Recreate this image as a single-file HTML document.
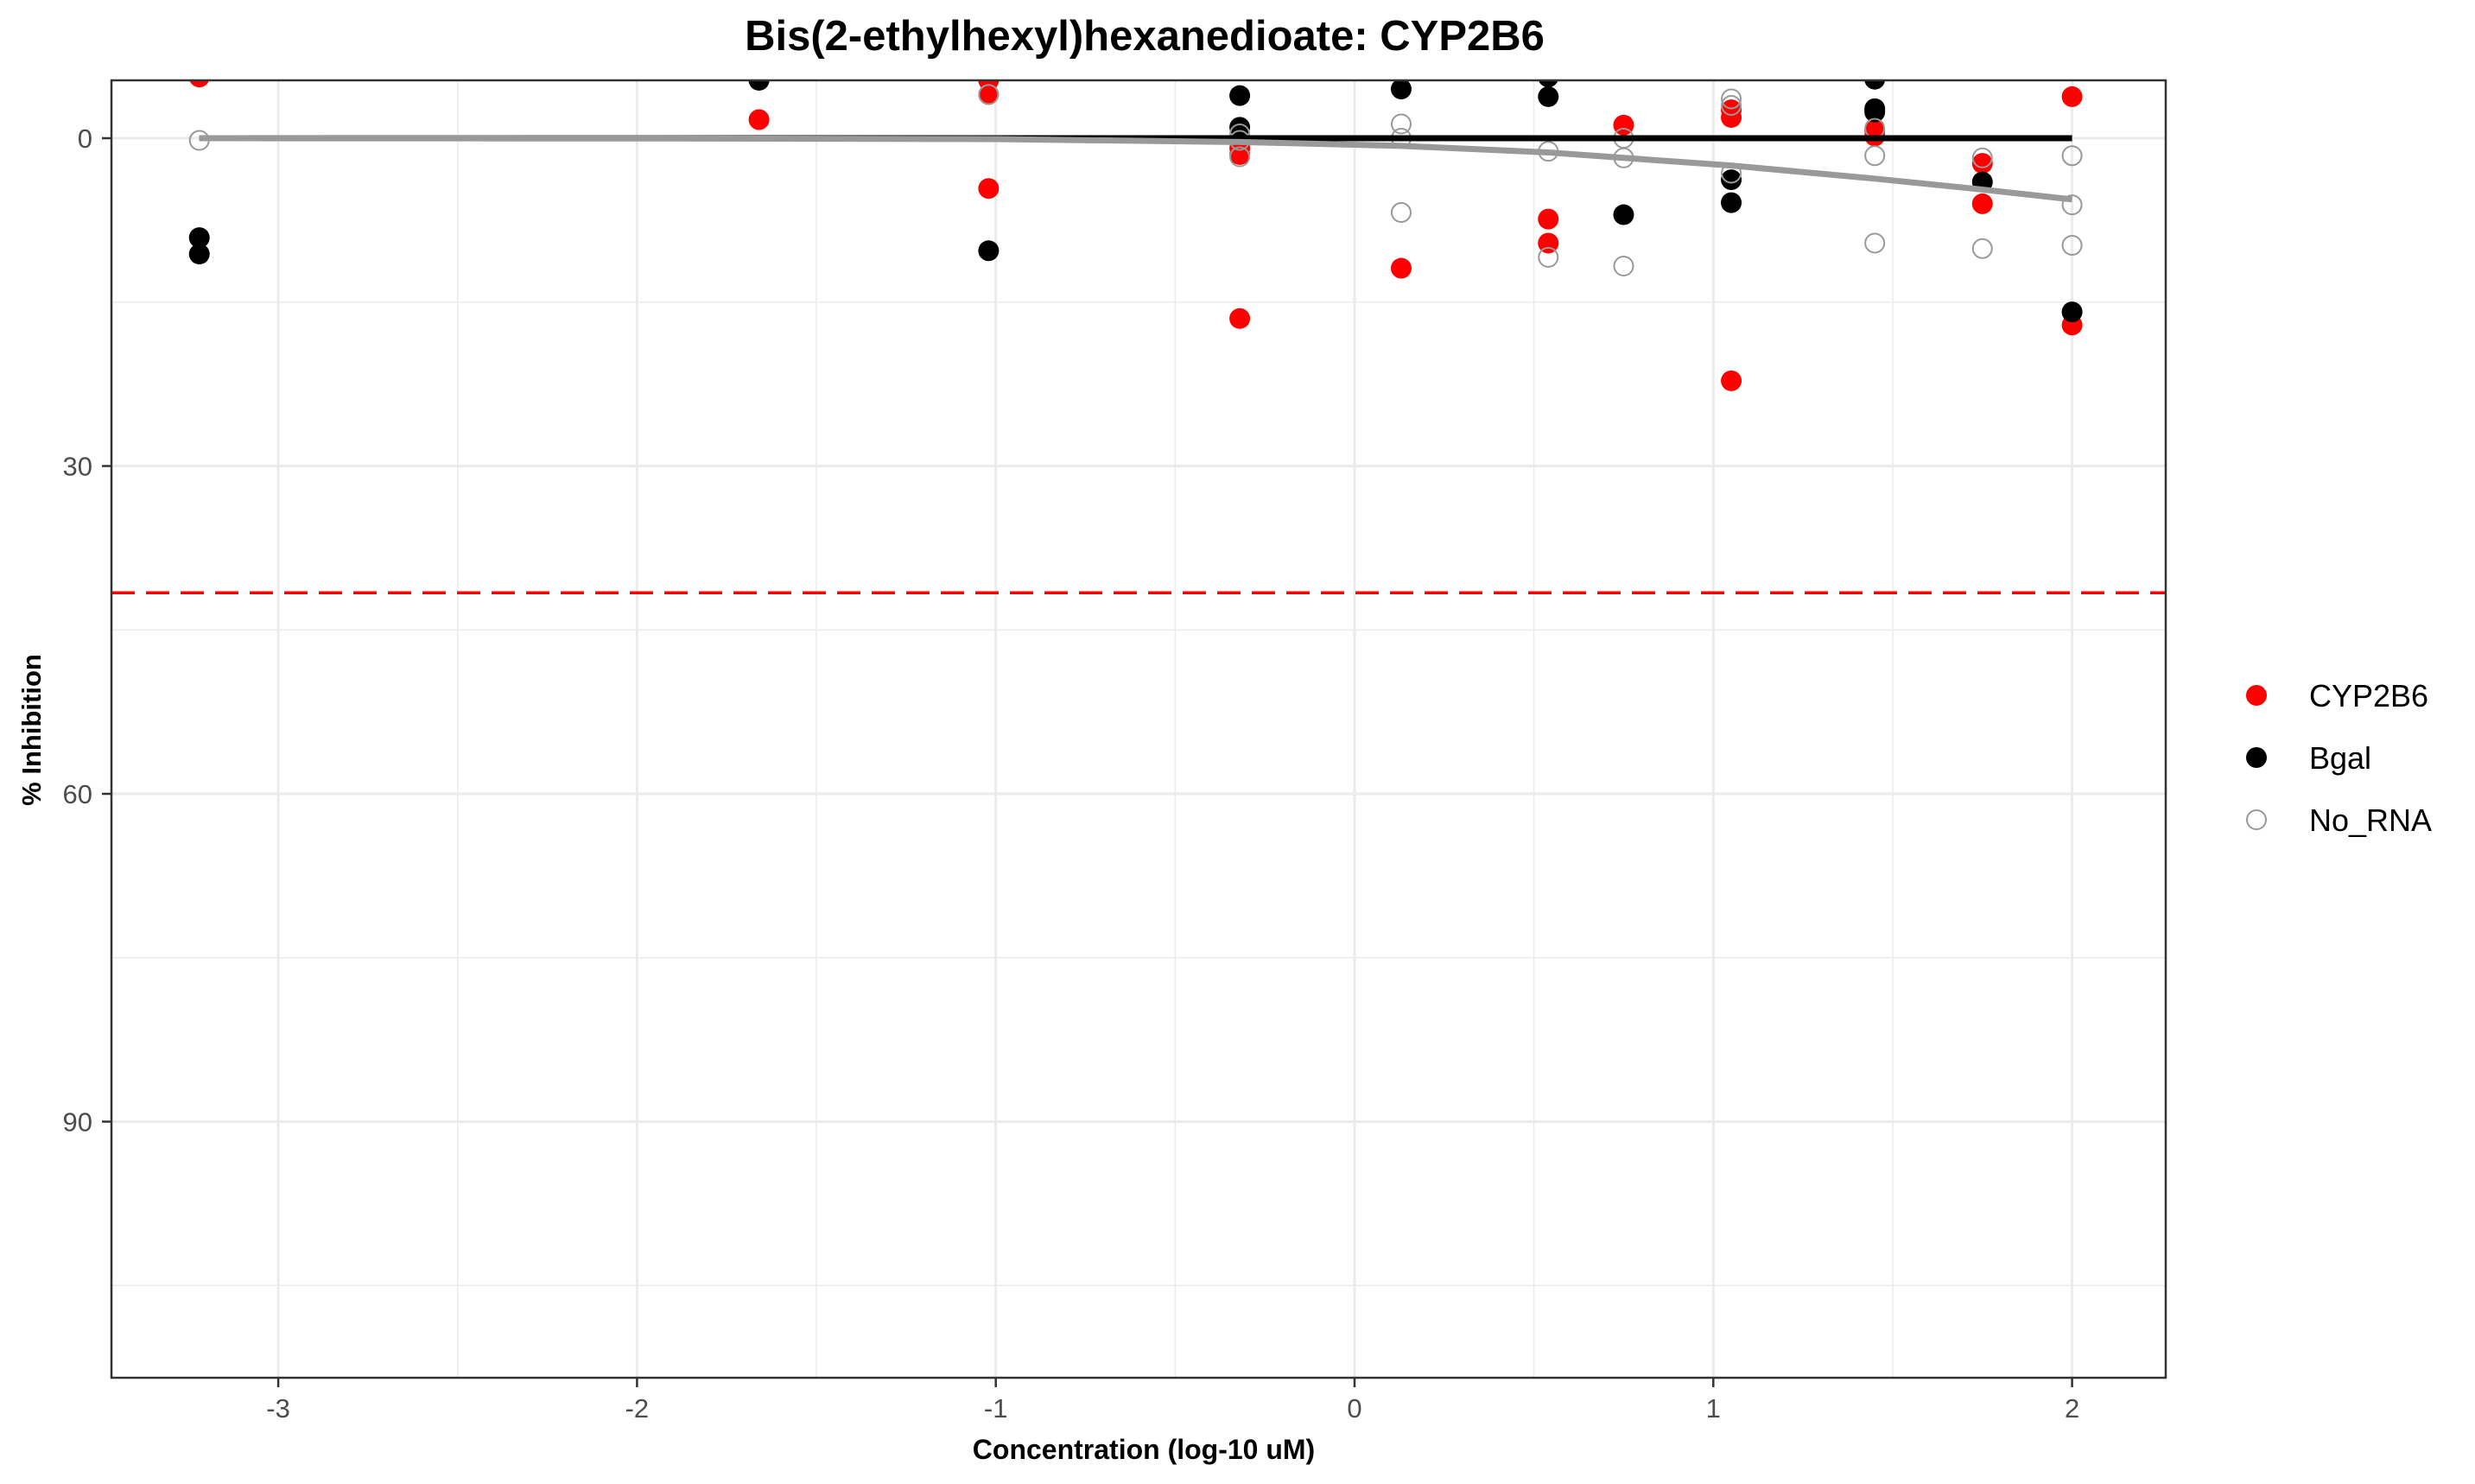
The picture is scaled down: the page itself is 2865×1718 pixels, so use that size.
<!DOCTYPE html>
<html><head><meta charset="utf-8"><style>
html,body{margin:0;padding:0;background:#fff;}
svg{display:block;font-family:"Liberation Sans",Arial,sans-serif;}
</style></head><body>
<svg id="chart" width="2865" height="1718" viewBox="0 0 2865 1718" xmlns="http://www.w3.org/2000/svg">
<text x="1325" y="58" text-anchor="middle" font-size="49" font-weight="bold" fill="#000">Bis(2-ethylhexyl)hexanedioate: CYP2B6</text>
<rect x="129" y="93" width="2378" height="1502" fill="#fff"/>
<g id="grid"></g>
<g id="marks"></g>
<rect x="129" y="93" width="2378" height="1502" fill="none" stroke="#333" stroke-width="2.5"/>
<g id="axes"></g>
<text x="1324" y="1689" text-anchor="middle" font-size="32" font-weight="bold" fill="#000">Concentration (log-10 uM)</text>
<text transform="translate(47,845) rotate(-90)" text-anchor="middle" font-size="31" font-weight="bold" fill="#000">% Inhibition</text>
<g>
<g><circle cx="2612" cy="805" r="12" fill="#ff0000"/><text x="2673" y="818" font-size="36" fill="#000">CYP2B6</text></g>
<g><circle cx="2612" cy="877" r="12" fill="#000"/><text x="2673" y="890" font-size="36" fill="#000">Bgal</text></g>
<g><circle cx="2612" cy="949" r="11" fill="none" stroke="#999" stroke-width="2"/><text x="2673" y="962" font-size="36" fill="#000">No_RNA</text></g>
</g>
</svg>
<script>
const xTicks = [-3, -2, -1, 0, 1, 2];
const yTicks = [0, 30, 60, 90];
const xMinor = [-2.5, -1.5, -0.5, 0.5, 1.5];
const yMinor = [15, 45, 75, 105];
const cypX = [-3.22, -1.66, -1.02, -1.02, -1.02, -0.32, -0.32, -0.32, 0.13, 0.54, 0.54, 0.75, 1.05, 1.05, 1.05, 1.45, 1.45, 1.75, 1.75, 2.0, 2.0];
const cypY = [-5.6, -1.7, -5.3, -4.0, 4.6, 0.9, 1.5, 16.5, 11.9, 7.4, 9.6, -1.2, -2.6, -1.9, 22.2, -0.7, -0.2, 2.3, 6.0, -3.8, 17.1];
const bgalX = [-3.22, -3.22, -1.66, -1.02, -0.32, -0.32, 0.13, 0.54, 0.54, 0.75, 1.05, 1.05, 1.45, 1.45, 1.45, 1.75, 2.0];
const bgalY = [9.1, 10.6, -5.3, 10.3, -3.9, -1.0, -4.5, -5.6, -3.8, 7.0, 3.8, 5.9, -5.4, -2.7, -2.4, 4.0, 15.9];
const noX = [-3.22, -1.02, -0.32, -0.32, -0.32, 0.13, 0.13, 0.13, 0.54, 0.54, 0.75, 0.75, 0.75, 1.05, 1.05, 1.05, 1.45, 1.45, 1.45, 1.75, 1.75, 2.0, 2.0, 2.0];
const noY = [0.2, -4.0, -0.4, 0.2, 1.7, -1.3, 0, 6.8, 1.2, 10.9, 0, 1.8, 11.7, -3.6, -3.0, 3.2, -0.9, 1.6, 9.6, 1.8, 10.1, 1.6, 6.1, 9.8];
const bgalCurveX = [-3.22, 2.0];
const bgalCurveY = [0, 0];
const noCurveX = [-3.22, -2.0, -1.0, -0.32, 0.13, 0.54, 0.75, 1.05, 1.45, 1.75, 2.0];
const noCurveY = [0, 0.02, 0.08, 0.35, 0.7, 1.3, 1.8, 2.5, 3.7, 4.7, 5.6];
const threshold = [41.6];

const sx = v => 1568 + v * 415.3;
const sy = v => 160 + v * 12.65;
const NS = "http://www.w3.org/2000/svg";
function mk(tag, attrs, parent) {
  const e = document.createElementNS(NS, tag);
  for (const k in attrs) e.setAttribute(k, attrs[k]);
  parent.appendChild(e);
  return e;
}
const grid = document.getElementById('grid');
const marks = document.getElementById('marks');
const axes = document.getElementById('axes');
const L = 129, R = 2507, T = 93, B = 1595;
xMinor.forEach(v => {
  const e = mk('line', {x1: sx(v), x2: sx(v), y1: T, y2: B, stroke: '#ebebeb', 'stroke-width': 1.5}, grid);
  
  
});
yMinor.forEach(v => {
  const e = mk('line', {x1: L, x2: R, y1: sy(v), y2: sy(v), stroke: '#ebebeb', 'stroke-width': 1.5}, grid);
  
  
});
xTicks.forEach(v => {
  const e = mk('line', {x1: sx(v), x2: sx(v), y1: T, y2: B, stroke: '#ebebeb', 'stroke-width': 3}, grid);
  
  
  const t = mk('line', {x1: sx(v), x2: sx(v), y1: B, y2: B + 11, stroke: '#333', 'stroke-width': 2.5}, axes);
  
  
  const lb = mk('text', {x: sx(v), y: B + 46, 'text-anchor': 'middle', 'font-size': 31, fill: '#4d4d4d'}, axes);
  lb.textContent = v;
  
  
});
yTicks.forEach(v => {
  const e = mk('line', {x1: L, x2: R, y1: sy(v), y2: sy(v), stroke: '#ebebeb', 'stroke-width': 3}, grid);
  
  
  const t = mk('line', {x1: L - 11, x2: L, y1: sy(v), y2: sy(v), stroke: '#333', 'stroke-width': 2.5}, axes);
  
  
  const lb = mk('text', {x: 107, y: sy(v) + 11, 'text-anchor': 'end', 'font-size': 31, fill: '#4d4d4d'}, axes);
  lb.textContent = v;
  
  
});
const clip = mk('clipPath', {id: 'pc'}, mk('defs', {}, document.getElementById('chart')));
mk('rect', {x: L, y: T, width: R - L, height: B - T}, clip);
marks.setAttribute('clip-path', 'url(#pc)');
cypX.forEach((x, i) => {
  const c = mk('circle', {cx: sx(x), cy: sy(cypY[i]), r: 12, fill: '#ff0000'}, marks);
  
  
});
bgalX.forEach((x, i) => {
  const c = mk('circle', {cx: sx(x), cy: sy(bgalY[i]), r: 12, fill: '#000'}, marks);
  
  
});
noX.forEach((x, i) => {
  const c = mk('circle', {cx: sx(x), cy: sy(noY[i]), r: 11, fill: 'none', stroke: '#999', 'stroke-width': 2}, marks);
  
  
});
const bl = mk('polyline', {points: bgalCurveX.map((x, i) => sx(x) + ',' + sy(bgalCurveY[i])).join(' '), fill: 'none', stroke: '#000', 'stroke-width': 7}, marks);


const gl = mk('polyline', {points: noCurveX.map((x, i) => sx(x) + ',' + sy(noCurveY[i])).join(' '), fill: 'none', stroke: '#999', 'stroke-width': 7}, marks);


const th = mk('line', {x1: L, x2: R, y1: sy(threshold[0]), y2: sy(threshold[0]), stroke: '#ff0000', 'stroke-width': 3.5, 'stroke-dasharray': '27 13'}, marks);


</script>
</body></html>
